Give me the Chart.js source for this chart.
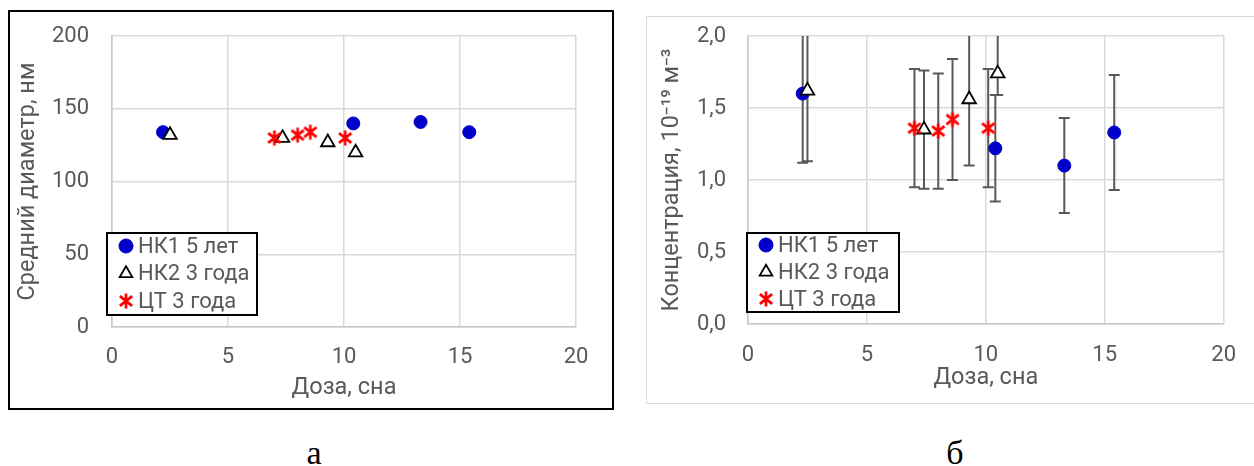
<!DOCTYPE html>
<html>
<head>
<meta charset="utf-8">
<script src="https://cdn.jsdelivr.net/npm/chart.js@4.4.1/dist/chart.umd.min.js"></script>
<style>
  html, body { margin: 0; padding: 0; background: #fff; }
  body { width: 1254px; height: 466px; overflow: hidden; position: relative; font-family: Roboto, sans-serif; }
  #frameA { position: absolute; left: 8px; top: 10px; width: 602px; height: 396px; border: 2px solid #000; }
  #frameB { position: absolute; left: 646px; top: 16px; width: 640px; height: 386px; border: 1.5px solid #d9d9d9; }
  .wrap { position: absolute; }
  #wrapA { left: 0; top: 0; width: 620px; height: 420px; }
  #wrapB { left: 630px; top: 0; width: 624px; height: 420px; }
  .cap { position: absolute; top: 436px; width: 60px; text-align: center; line-height: 34px;
         font-family: "Liberation Serif", "Times New Roman", serif; font-size: 34px; color: #000; }
</style>
</head>
<body>
<div id="frameA"></div>
<div id="frameB"></div>
<div class="wrap" id="wrapA"><canvas id="chartA" width="620" height="420"></canvas></div>
<div class="wrap" id="wrapB"><canvas id="chartB" width="624" height="420"></canvas></div>
<div class="cap" style="left:284px">а</div>
<div class="cap" style="left:925px">б</div>

<script>
// ---- (а) Средний диаметр от дозы ----
const doseA_NK1 = [2.2, 10.4, 13.3, 15.4];
const diamA_NK1 = [134, 140, 141, 134];
const doseA_NK2 = [2.5, 7.35, 9.3, 10.5];
const diamA_NK2 = [132, 130, 127, 120];
const doseA_CT  = [7.0, 8.0, 8.55, 10.05];
const diamA_CT  = [130, 132, 134, 130];

// ---- (б) Концентрация от дозы, с погрешностями ----
const doseB_NK1 = [2.3, 10.4, 13.3, 15.4];
const concB_NK1 = [1.60, 1.22, 1.10, 1.33];
const errB_NK1  = [0.48, 0.37, 0.33, 0.40];
const doseB_NK2 = [2.5, 7.4, 9.3, 10.5];
const concB_NK2 = [1.62, 1.35, 1.56, 1.74];
const errUpB_NK2   = [0.49, 0.41, 0.46, 0.41];
const errDownB_NK2 = [0.49, 0.41, 0.46, 0.15];
const doseB_CT  = [7.0, 8.0, 8.6, 10.1];
const concB_CT  = [1.36, 1.34, 1.42, 1.36];
const errB_CT   = [0.41, 0.40, 0.42, 0.41];

const seriesNames = ['НК1 5 лет', 'НК2 3 года', 'ЦТ 3 года'];
const xTitle = 'Доза, сна';
const yTitleA = 'Средний диаметр, нм';
const yTitleB = 'Концентрация, 10\u207B\u00B9\u2079 м\u207B\u00B3';

const TEXT = '#595959';
const GRID = '#d9d9d9';
const FONT = 'Roboto';
const TICK_SIZE = 22;
const TITLE_SIZE = 23.5;

// asterisk marker: vertical stroke + two diagonals
function makeAsterisk(size, color, lw) {
  const c = document.createElement('canvas');
  c.width = size; c.height = size;
  const g = c.getContext('2d');
  const m = size / 2, r = size / 2 - 1.5;
  g.strokeStyle = color; g.lineWidth = lw; g.lineCap = 'butt';
  g.beginPath();
  g.moveTo(m, m - r); g.lineTo(m, m + r);
  const dx = r * Math.cos(Math.PI / 6) * 0.95, dy = r * Math.sin(Math.PI / 6) * 1.3;
  g.moveTo(m - dx, m - dy); g.lineTo(m + dx, m + dy);
  g.moveTo(m - dx, m + dy); g.lineTo(m + dx, m - dy);
  g.stroke();
  return c;
}
const starImg = makeAsterisk(18, '#ff0000', 2.7);

const pts = (xs, ys) => xs.map((x, i) => ({ x, y: ys[i] }));

function seriesSet(xs1, ys1, xs2, ys2, xs3, ys3) {
  return [
    { label: seriesNames[0], data: pts(xs1, ys1), order: 2,
      pointStyle: 'circle', pointRadius: 6.5, pointBorderWidth: 1,
      backgroundColor: '#0000c8', borderColor: '#0000c8', legendRadius: 7 },
    { label: seriesNames[1], data: pts(xs2, ys2), order: 1,
      pointStyle: 'triangle', pointRadius: 7.8, pointBorderWidth: 1.8,
      backgroundColor: '#ffffff', borderColor: '#000000', legendRadius: 7.3 },
    { label: seriesNames[2], data: pts(xs3, ys3), order: 0,
      pointStyle: starImg, pointRadius: 8, pointBorderWidth: 0,
      backgroundColor: '#ff0000', borderColor: '#ff0000', legendRadius: 8 }
  ];
}

// vertical error bars, clipped to the plot area, drawn beneath the markers
const errorBars = {
  id: 'errorBars',
  beforeDatasetsDraw(chart, args, opts) {
    const { ctx, chartArea: a, scales: { x, y } } = chart;
    ctx.save();
    ctx.beginPath();
    ctx.rect(a.left, a.top, a.right - a.left, a.bottom - a.top);
    ctx.clip();
    ctx.strokeStyle = opts.color;
    ctx.lineWidth = opts.width;
    chart.data.datasets.forEach(ds => {
      if (!ds.errUp) return;
      ds.data.forEach((p, i) => {
        const px = x.getPixelForValue(p.x);
        const t = y.getPixelForValue(p.y + ds.errUp[i]);
        const b = y.getPixelForValue(p.y - ds.errDown[i]);
        ctx.beginPath();
        ctx.moveTo(px, t); ctx.lineTo(px, b);
        ctx.moveTo(px - opts.cap, t); ctx.lineTo(px + opts.cap, t);
        ctx.moveTo(px - opts.cap, b); ctx.lineTo(px + opts.cap, b);
        ctx.stroke();
      });
    });
    ctx.restore();
  }
};

// framed legend placed inside the plot area
const boxLegend = {
  id: 'boxLegend',
  afterDatasetsDraw(chart, args, o) {
    const { ctx, chartArea } = chart;
    const x0 = chartArea.left + o.dx, y0 = o.top;
    ctx.save();
    ctx.fillStyle = '#fff';
    ctx.fillRect(x0, y0, o.w, o.h);
    ctx.strokeStyle = '#000';
    ctx.lineWidth = 2;
    ctx.strokeRect(x0, y0, o.w, o.h);
    ctx.font = o.fontSize + 'px ' + FONT;
    ctx.textBaseline = 'middle';
    ctx.textAlign = 'left';
    chart.data.datasets.forEach((ds, i) => {
      const cy = y0 + o.firstRow + i * o.rowGap;
      ctx.fillStyle = ds.backgroundColor;
      ctx.strokeStyle = ds.borderColor;
      ctx.lineWidth = ds.pointBorderWidth;
      Chart.helpers.drawPoint(ctx, {
        pointStyle: ds.pointStyle, radius: ds.legendRadius,
        borderWidth: ds.pointBorderWidth, rotation: 0
      }, x0 + o.markerX, cy);
      ctx.fillStyle = TEXT;
      ctx.fillText(ds.label, x0 + o.textX, cy + 1);
    });
    ctx.restore();
  }
};

function axes(yMin, yMax, yStep, yFmt, yTitle, yWidth, xHeight, yPad, xPad) {
  return {
    x: {
      type: 'linear', min: 0, max: 20,
      ticks: { stepSize: 5, color: TEXT, font: { family: FONT, size: TICK_SIZE }, padding: xPad },
      grid: { color: GRID, lineWidth: 1.5, drawTicks: false },
      border: { color: '#c8c8c8', width: 1.5 },
      title: { display: true, text: xTitle, color: TEXT, font: { family: FONT, size: TITLE_SIZE }, padding: { top: 0, bottom: 0 } },
      afterFit: s => { s.height = xHeight; }
    },
    y: {
      type: 'linear', min: yMin, max: yMax,
      ticks: { stepSize: yStep, color: TEXT, font: { family: FONT, size: TICK_SIZE }, padding: yPad, callback: yFmt },
      grid: { color: GRID, lineWidth: 1.5, drawTicks: false },
      border: { color: '#c8c8c8', width: 1.5 },
      title: { display: true, text: yTitle, color: TEXT, font: { family: FONT, size: TITLE_SIZE }, padding: { top: 4, bottom: 0 } },
      afterFit: s => { s.width = yWidth; }
    }
  };
}

new Chart(document.getElementById('chartA'), {
  type: 'scatter',
  data: { datasets: seriesSet(doseA_NK1, diamA_NK1, doseA_NK2, diamA_NK2, doseA_CT, diamA_CT) },
  options: {
    responsive: false, animation: false, events: [],
    layout: { padding: { left: 10, right: 44, top: 31, bottom: 18 } },
    scales: axes(0, 200, 50, v => v, yTitleA, 102, 75, 23, 17),
    plugins: {
      legend: { display: false }, tooltip: { enabled: false },
      boxLegend: { dx: -5, top: 233, w: 150, h: 82, firstRow: 13, rowGap: 27.5, markerX: 19, textX: 31, fontSize: 22 }
    }
  },
  plugins: [boxLegend]
});

const fmtComma = v => v.toFixed(1).replace('.', ',');

const dsB = seriesSet(doseB_NK1, concB_NK1, doseB_NK2, concB_NK2, doseB_CT, concB_CT);
dsB[0].errUp = errB_NK1;     dsB[0].errDown = errB_NK1;
dsB[1].errUp = errUpB_NK2;   dsB[1].errDown = errDownB_NK2;
dsB[2].errUp = errB_CT;      dsB[2].errDown = errB_CT;

new Chart(document.getElementById('chartB'), {
  type: 'scatter',
  data: { datasets: dsB },
  options: {
    responsive: false, animation: false, events: [],
    layout: { padding: { left: 24, right: 28, top: 36, bottom: 28 } },
    scales: axes(0, 2, 0.5, fmtComma, yTitleB, 94, 68, 22, 18),
    plugins: {
      legend: { display: false }, tooltip: { enabled: false },
      errorBars: { color: '#595959', width: 2, cap: 5.5 },
      boxLegend: { dx: -1, top: 233, w: 152, h: 79, firstRow: 12, rowGap: 27, markerX: 19, textX: 31, fontSize: 22 }
    }
  },
  plugins: [errorBars, boxLegend]
});
</script>
</body>
</html>
